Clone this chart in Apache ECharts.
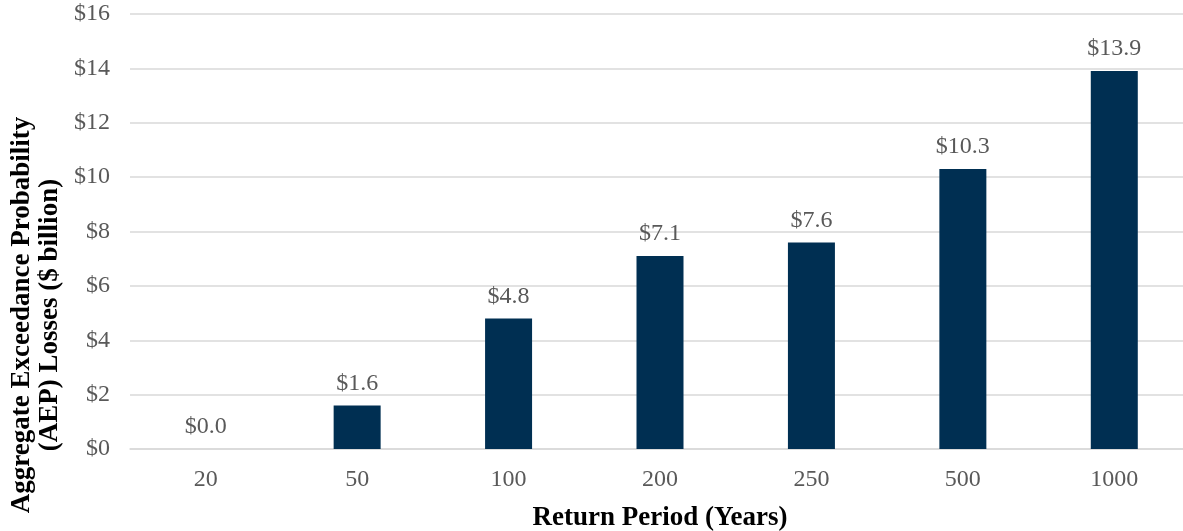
<!DOCTYPE html>
<html>
<head>
<meta charset="utf-8">
<script src="https://cdn.jsdelivr.net/npm/echarts@6/dist/echarts.min.js"></script>
<style>
  html, body { margin: 0; padding: 0; background: #fff; overflow: hidden; }
  #chart { width: 1183px; height: 531px; }
</style>
</head>
<body>
<div id="chart"></div>
<script>
// Return periods (years) and AEP losses ($ billion)
const returnPeriods = ['20', '50', '100', '200', '250', '500', '1000'];
const aepLosses = [0.0, 1.6, 4.8, 7.1, 7.6, 10.3, 13.9];

const serif = '"Liberation Serif", "Times New Roman", serif';
const textGrey = '#595959';

const chart = echarts.init(document.getElementById('chart'));
chart.setOption({
  animation: false,
  // plot area runs past the right edge of the canvas
  grid: {
    left: 130, width: 1060, top: 14, height: 435,
    containLabel: false,
    outerBoundsMode: 'none'
  },
  xAxis: {
    type: 'category',
    data: returnPeriods,
    axisTick: { show: false },
    axisLine: { lineStyle: { color: '#d9d9d9', width: 1.5 } },
    axisLabel: { color: textGrey, fontFamily: serif, fontSize: 24, margin: 19 },
    name: 'Return Period (Years)',
    nameLocation: 'middle',
    nameGap: 56,
    nameTextStyle: { color: '#000', fontFamily: serif, fontSize: 27, fontWeight: 'bold' }
  },
  yAxis: {
    type: 'value',
    min: 0,
    max: 16,
    interval: 2,
    axisLine: { show: false },
    axisTick: { show: false },
    splitLine: { lineStyle: { color: '#d9d9d9', width: 1.5 } },
    axisLabel: {
      color: textGrey, fontFamily: serif, fontSize: 24, margin: 20,
      formatter: v => '$' + v
    }
  },
  graphic: [{
    type: 'text',
    x: 36,
    y: 315,
    rotation: Math.PI / 2,
    style: {
      text: 'Aggregate Exceedance Probability\n(AEP) Losses ($ billion)',
      font: 'bold 27px ' + serif,
      fill: '#000',
      align: 'center',
      verticalAlign: 'middle',
      lineHeight: 28
    }
  }],
  series: [{
    type: 'bar',
    data: aepLosses,
    barWidth: 47,
    itemStyle: { color: '#002f52' },
    label: {
      show: true,
      position: 'top',
      distance: 10,
      color: textGrey,
      fontFamily: serif,
      fontSize: 24,
      formatter: p => '$' + p.value.toFixed(1)
    }
  }]
});
</script>
</body>
</html>
